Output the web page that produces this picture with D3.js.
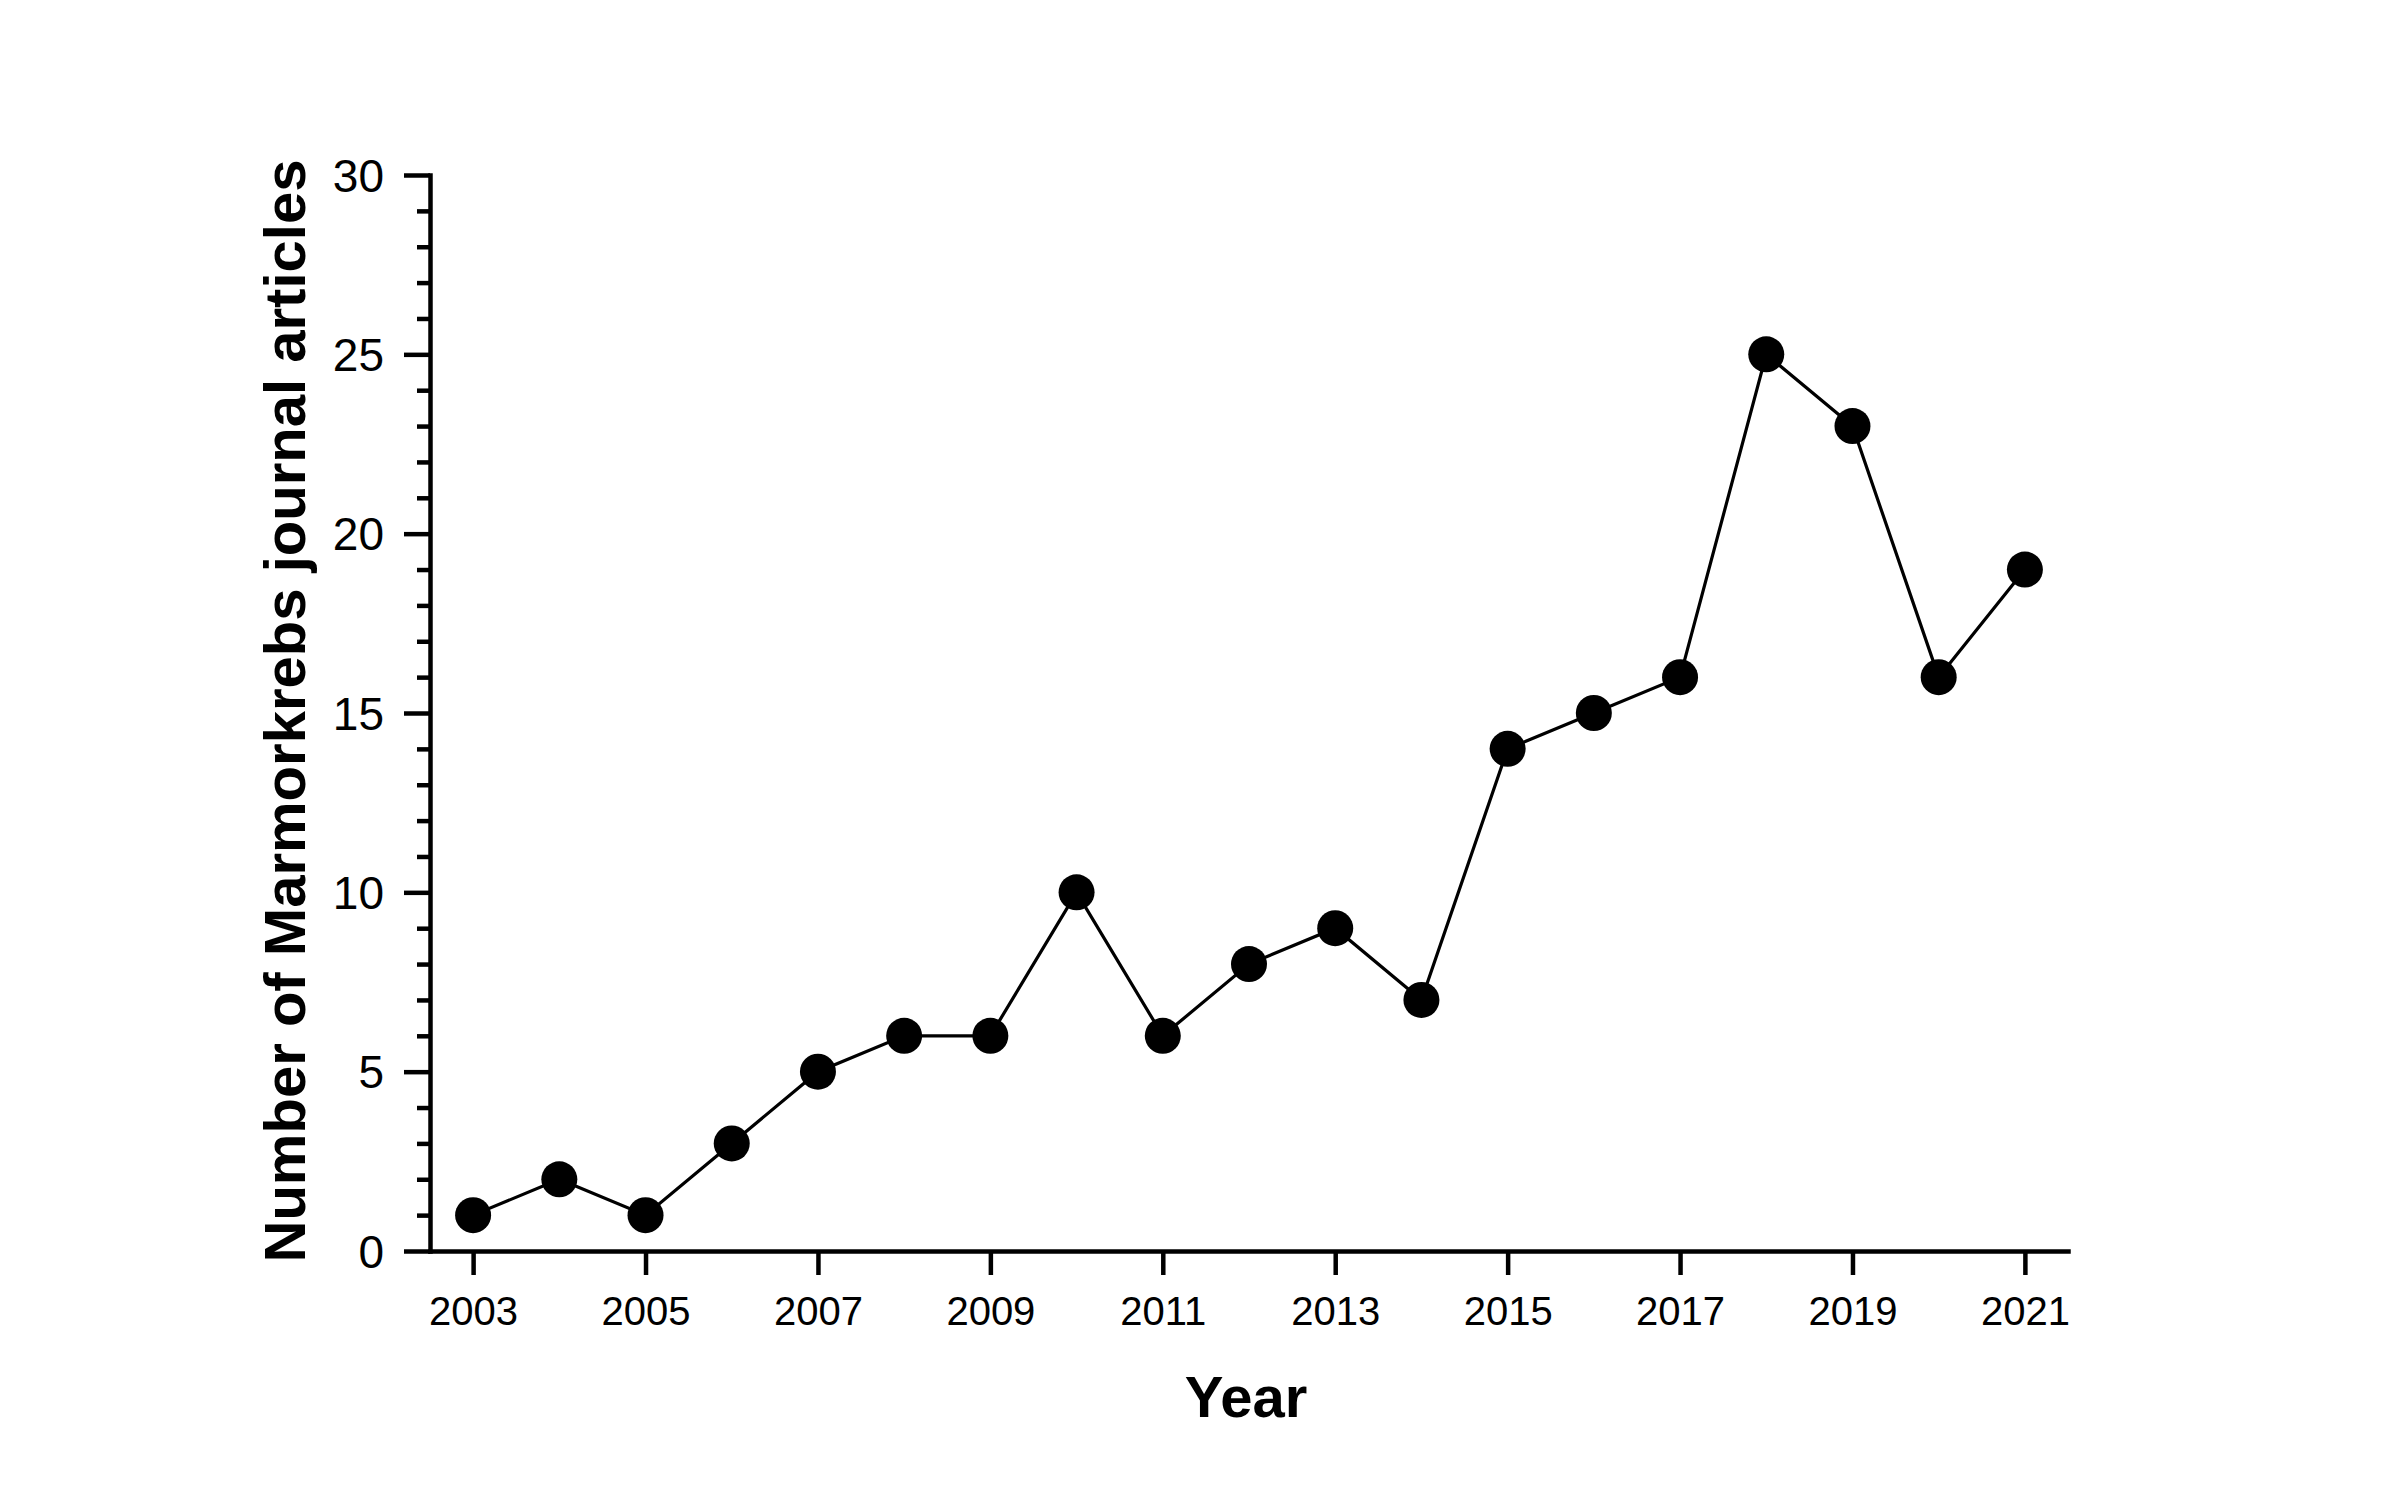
<!DOCTYPE html>
<html>
<head>
<meta charset="utf-8">
<script src="https://cdn.jsdelivr.net/npm/d3@7"></script>
<style>
  html, body { margin: 0; padding: 0; background: #fff; }
  svg { display: block; }
  text { font-family: Arial, "Liberation Sans", sans-serif; fill: #000; }
</style>
</head>
<body>
<script>
const years = [2003, 2004, 2005, 2006, 2007, 2008, 2009, 2010, 2011, 2012, 2013, 2014, 2015, 2016, 2017, 2018, 2019, 2020, 2021];
const articles = [1, 2, 1, 3, 5, 6, 6, 10, 6, 8, 9, 7, 14, 15, 16, 25, 23, 16, 19];
const xTickYears = [2003, 2005, 2007, 2009, 2011, 2013, 2015, 2017, 2019, 2021];
const yMajorTicks = [0, 5, 10, 15, 20, 25, 30];
const yMinorTicks = [1,2,3,4,6,7,8,9,11,12,13,14,16,17,18,19,21,22,23,24,26,27,28,29];
const xLabel = "Year";
const yLabel = "Number of Marmorkrebs journal articles";

const W = 2400, H = 1500;
const svg = d3.select("body").append("svg").attr("width", W).attr("height", H);

const x = d3.scaleLinear().domain([2002.5, 2021.5]).range([430, 2068]);
const y = d3.scaleLinear().domain([0, 30]).range([1251, 175]);

const axisW = 4.5;

// Y minor ticks
const gMinor = svg.append("g").attr("transform", `translate(${x.range()[0]},0)`)
  .call(d3.axisLeft(y).tickValues(yMinorTicks).tickSize(13).tickSizeOuter(0).tickFormat(""));
gMinor.select(".domain").remove();
gMinor.selectAll("line").attr("stroke", "#000").attr("stroke-width", axisW);

// Y major axis
const gy = svg.append("g").attr("transform", `translate(${x.range()[0]},0)`)
  .call(d3.axisLeft(y).tickValues(yMajorTicks).tickSize(26).tickSizeOuter(0).tickPadding(20));
gy.select(".domain").attr("stroke", "#000").attr("stroke-width", axisW).attr("stroke-linecap", "square");
gy.selectAll("line").attr("stroke", "#000").attr("stroke-width", axisW);
gy.selectAll("text").attr("font-size", 46).attr("font-family", "Arial, 'Liberation Sans', sans-serif").attr("dy", "0.35em").attr("fill", "#000");

// X axis
const gx = svg.append("g").attr("transform", `translate(0,${y.range()[0]})`)
  .call(d3.axisBottom(x).tickValues(xTickYears).tickSize(24).tickSizeOuter(0).tickPadding(22).tickFormat(d3.format("d")));
gx.select(".domain").attr("stroke", "#000").attr("stroke-width", axisW).attr("stroke-linecap", "square");
gx.selectAll("line").attr("stroke", "#000").attr("stroke-width", axisW);
gx.selectAll("text").attr("font-size", 40).attr("font-family", "Arial, 'Liberation Sans', sans-serif").attr("fill", "#000");

// Line
const line = d3.line().x((d, i) => x(years[i])).y(d => y(d));
svg.append("path").datum(articles)
  .attr("d", line).attr("fill", "none").attr("stroke", "#000").attr("stroke-width", 3.2);

// Markers
svg.append("g").selectAll("circle").data(articles).join("circle")
  .attr("cx", (d, i) => x(years[i])).attr("cy", d => y(d)).attr("r", 18).attr("fill", "#000");

// Axis titles
svg.append("text").attr("x", 1246).attr("y", 1417).attr("text-anchor", "middle")
  .attr("font-size", 58).attr("font-weight", "bold").text(xLabel);

svg.append("text").attr("transform", "translate(305,711) rotate(-90)")
  .attr("text-anchor", "middle").attr("font-size", 58).attr("font-weight", "bold")
  .attr("textLength", 1103).attr("lengthAdjust", "spacingAndGlyphs").text(yLabel);
</script>
</body>
</html>
